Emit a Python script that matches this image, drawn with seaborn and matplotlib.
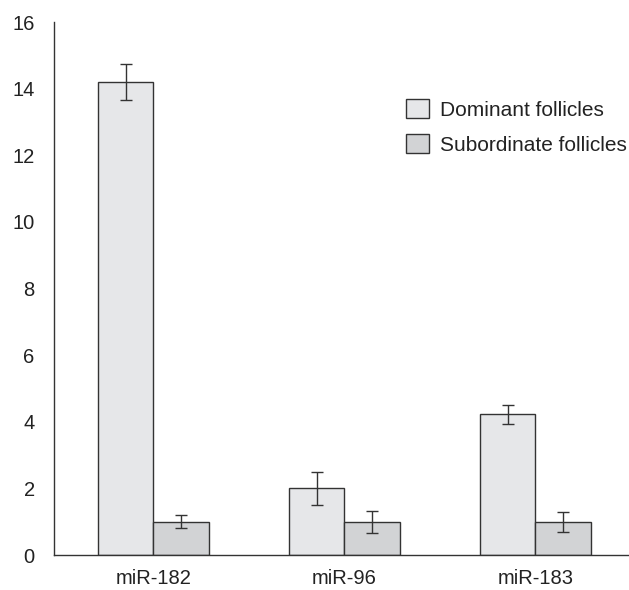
import pandas as pd
import matplotlib.pyplot as plt
import seaborn as sns

genes = ["miR-182", "miR-96", "miR-183"]
groups = ["Dominant follicles", "Subordinate follicles"]
dominant = [14.2, 2.0, 4.22]
dominant_err = [0.55, 0.5, 0.28]
subordinate = [1.0, 1.0, 1.0]
subordinate_err = [0.2, 0.33, 0.3]

df = pd.DataFrame({
    "gene": genes * 2,
    "group": [groups[0]] * 3 + [groups[1]] * 3,
    "value": dominant + subordinate,
    "err": dominant_err + subordinate_err,
})

sns.set_style("white")
plt.rcParams['font.family'] = ['Liberation Sans', 'DejaVu Sans']

fig = plt.figure(figsize=(6.29, 5.9), dpi=100)
ax = fig.add_axes([0.086, 0.0593, 0.914, 0.9034])

palette = {groups[0]: "#e6e7e9", groups[1]: "#d2d3d5"}
sns.barplot(data=df, x="gene", y="value", hue="group", palette=palette,
            errorbar=None, width=0.58, edgecolor="#333333", linewidth=1.0,
            saturation=1, ax=ax)

# error bars at the bar centres
for cont, grp in zip(ax.containers, groups):
    sub = df[df["group"] == grp]
    xs = [p.get_x() + p.get_width() / 2 for p in cont]
    ax.errorbar(xs, sub["value"], yerr=sub["err"], fmt="none",
                ecolor="#333333", elinewidth=1.0, capsize=4.5, capthick=1.0)

ax.set_ylim(0, 16)
ax.set_xlim(-0.52, 2.49)
ax.set_yticks(range(0, 17, 2))
ax.set_xlabel("")
ax.set_ylabel("")
ax.tick_params(axis="y", length=0, pad=14, labelsize=14.5, colors="#222222")
ax.tick_params(axis="x", length=0, pad=10, labelsize=14.5, colors="#222222")
for s in ["top", "right"]:
    ax.spines[s].set_visible(False)
for s in ["left", "bottom"]:
    ax.spines[s].set_color("#333333")
    ax.spines[s].set_linewidth(1.0)

ax.legend(loc="upper left", bbox_to_anchor=(0.58, 0.89), frameon=False,
          fontsize=15, handlelength=1.1, handleheight=1.0, handletextpad=0.5,
          labelspacing=0.7, labelcolor="#222222")

fig.savefig("out.png", dpi=100)
